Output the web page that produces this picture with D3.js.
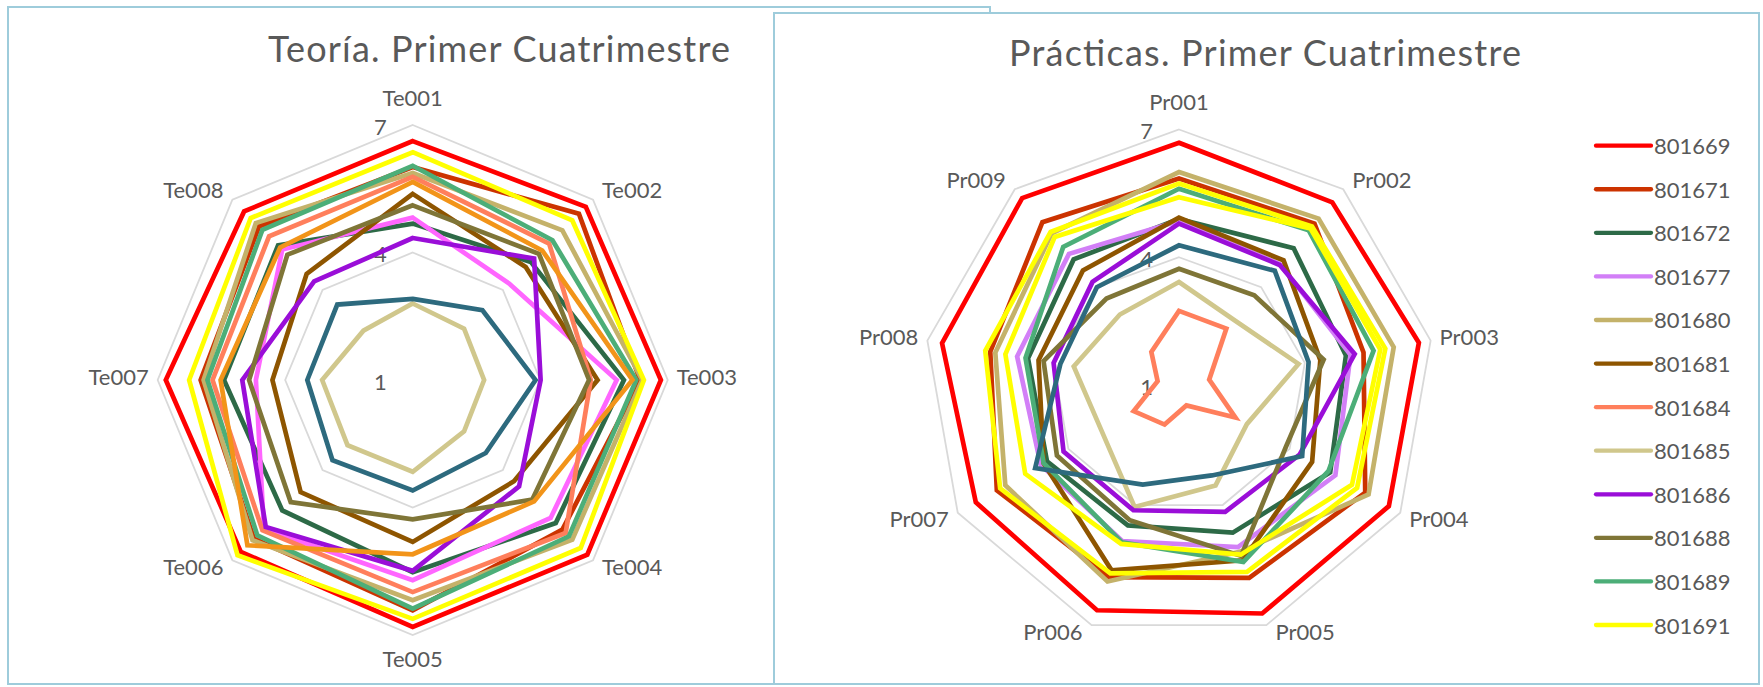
<!DOCTYPE html>
<html><head><meta charset="utf-8">
<script src="https://cdn.jsdelivr.net/npm/d3@7"></script>
<style>
html,body{margin:0;padding:0;background:#fff;}
svg{display:block;}
text{font-family:Lato,"Open Sans",sans-serif;fill:#595959;}
</style>
</head><body>
<svg id="chart" width="1763" height="687"></svg>
<script>
// ---------- categories ----------
const teoAxes = ["Te001","Te002","Te003","Te004","Te005","Te006","Te007","Te008"];
const prAxes  = ["Pr001","Pr002","Pr003","Pr004","Pr005","Pr006","Pr007","Pr008","Pr009"];
const tickValues = [1,4,7];
const gridLevels = [4,7];

// ---------- legend ----------
const legendIds = ["801669","801671","801672","801677","801680","801681","801684","801685","801686","801688","801689","801691"];
const legendColors = ["#FF0000","#CC3300","#2D6A47","#D27FF7","#C4B26A","#8E5500","#FF7F5C","#D0C78C","#9A0ED8","#7F7537","#4CAE78","#FFFF00"];

// ---------- Teoría values (Te001..Te008) ----------
const teo801669 = [6.62,6.76,6.84,6.81,6.81,6.72,6.81,6.61];
const teo801671 = [6.01,6.53,6.35,5.98,6.42,6.28,5.99,6.11];
const teo801672 = [4.68,4.93,5.97,5.76,5.52,5.34,5.44,5.48];
const teo801677 = [4.82,4.21,5.80,5.59,5.71,5.95,4.69,5.34];
const teo801680 = [5.87,5.98,6.40,6.31,6.18,6.33,5.92,6.22];
const teo801681 = [5.38,4.76,5.35,4.37,4.81,4.73,4.30,4.53];
const teo801684 = [5.78,5.54,5.19,6.09,5.99,6.00,5.71,5.78];
const teo801685 = [2.80,2.71,2.68,2.71,3.16,3.17,3.13,2.64];
const teo801686 = [4.34,5.04,4.01,4.54,5.49,5.89,5.01,4.28];
const teo801688 = [5.11,5.20,5.15,4.98,4.28,5.06,4.85,5.17];
const teo801689 = [6.04,5.65,6.26,6.20,6.38,6.17,5.83,6.00];
const teo801691 = [6.36,6.31,6.44,6.59,6.62,6.83,6.26,6.39];
const teoOrange = [5.66,5.31,6.17,5.04,5.10,6.50,5.52,5.41];
const teoTeal   = [2.91,3.32,3.89,3.43,3.60,3.67,3.48,3.51];
const teoColors = ["#FF0000","#CC3300","#2D6A47","#FF66FF","#C4B26A","#8E5500","#FF7F5C","#D0C78C","#9A0ED8","#7F7537","#4CAE78","#FFFF00","#F29419","#2D6A7E"];

// ---------- Prácticas values (Pr001..Pr009) ----------
const pr801669 = [6.69,6.60,6.72,6.69,6.71,6.63,6.51,6.65,6.73];
const pr801671 = [5.85,5.95,5.40,6.05,5.82,5.80,5.94,5.50,5.99];
const pr801672 = [4.90,5.19,4.98,5.10,4.69,4.51,4.58,4.60,4.85];
const pr801677 = [4.85,4.70,5.09,5.24,5.05,4.90,4.75,4.86,5.02];
const pr801680 = [6.00,6.10,6.12,6.14,5.17,5.91,5.71,5.38,5.65];
const pr801681 = [4.93,4.82,4.37,4.61,5.38,5.63,4.67,4.35,4.51];
const pr801684 = [2.74,2.73,1.72,2.53,1.51,1.99,2.23,1.51,2.01];
const pr801685 = [3.42,3.00,3.85,2.84,3.51,4.05,3.11,3.51,3.16];
const pr801686 = [4.79,4.68,5.19,4.27,4.17,4.13,4.13,3.99,4.16];
const pr801688 = [3.73,3.75,4.45,3.90,5.27,4.38,4.31,4.23,3.65];
const pr801689 = [5.61,5.74,5.64,5.05,5.42,4.93,4.67,4.66,5.23];
const pr801691 = [5.73,5.86,5.92,5.83,5.67,5.71,5.85,5.62,5.69];
const prYellow2 = [5.41,5.80,5.80,5.69,5.24,4.97,5.17,5.14,5.54];
const prTeal    = [4.28,4.50,4.09,4.34,3.26,3.49,4.90,3.83,4.00];
const prColors = ["#FF0000","#CC3300","#2D6A47","#D27FF7","#C4B26A","#8E5500","#FF7F5C","#D0C78C","#9A0ED8","#7F7537","#4CAE78","#FFFF00","#FFFF00","#2D6A7E"];

const teoSeries = [teo801669,teo801671,teo801672,teo801677,teo801680,teo801681,teo801684,teo801685,teo801686,teo801688,teo801689,teo801691,teoOrange,teoTeal];
const prSeries  = [pr801669,pr801671,pr801672,pr801677,pr801680,pr801681,pr801684,pr801685,pr801686,pr801688,pr801689,pr801691,prYellow2,prTeal];

const svg = d3.select("#chart");
const boxColor = "#9ECCDB";

// panels (left first, right drawn over it)
svg.append("rect").attr("x",8).attr("y",7).attr("width",982).attr("height",677)
  .attr("fill","#fff").attr("stroke",boxColor).attr("stroke-width",2);

function radar(opt){
  const g = svg.append("g");
  const n = opt.axes.length;
  const r = d3.scaleLinear().domain([1,7]).range([0,opt.R]);
  const ang = i => i*2*Math.PI/n;
  const line = d3.lineRadial().angle((d,i)=>ang(i)).radius(d=>r(d)).curve(d3.curveLinearClosed);
  const plot = g.append("g").attr("transform",`translate(${opt.cx},${opt.cy})`);
  // grid rings
  plot.selectAll("path.grid").data(gridLevels).enter().append("path")
    .attr("class","grid")
    .attr("d",lv=>line(opt.axes.map(()=>lv)))
    .attr("fill","none").attr("stroke","#D9D9D9").attr("stroke-width",1.8);
  // tick labels
  plot.selectAll("text.tick").data(tickValues).enter().append("text")
    .attr("class","tick")
    .attr("x",-26).attr("y",d=>-r(d)+1)
    .attr("text-anchor","end").attr("dominant-baseline","central")
    .style("font-size","22px").text(d=>d);
  // series
  plot.selectAll("path.series").data(opt.series).enter().append("path")
    .attr("class","series")
    .attr("d",d=>line(d))
    .attr("fill","none")
    .attr("stroke",(d,i)=>opt.colors[i])
    .attr("stroke-width",4.7)
    .attr("stroke-linejoin","miter");
  // axis labels
  opt.axes.forEach((name,i)=>{
    const a = ang(i), s = Math.sin(a), c = Math.cos(a);
    const vx = r(7)*s, vy = -r(7)*c;
    let x, y, anchor;
    if (Math.abs(s) < 0.1){
      anchor = "middle"; x = vx; y = c > 0 ? vy - 28 : vy + 23;
    } else {
      anchor = s > 0 ? "start" : "end";
      x = vx + 9*Math.sign(s);
      y = (Math.abs(c) > 0.3 ? vy - 8*Math.sign(c) : vy - 2) - 2;
    }
    plot.append("text").attr("x",x).attr("y",y)
      .attr("text-anchor",anchor).attr("dominant-baseline","central")
      .style("font-size","22px").text(name);
  });
  // title
  g.append("text").attr("x",opt.titleX).attr("y",opt.titleY)
    .attr("text-anchor","middle")
    .attr("textLength",opt.titleW).attr("lengthAdjust","spacing")
    .style("font-size","36px").text(opt.title);
}

radar({axes:teoAxes, series:teoSeries, colors:teoColors, cx:412.7, cy:380, R:255,
  title:"Teoría. Primer Cuatrimestre", titleX:499, titleY:62, titleW:462});

svg.append("rect").attr("x",774).attr("y",13).attr("width",985).attr("height",671)
  .attr("fill","#fff").attr("stroke",boxColor).attr("stroke-width",2);

radar({axes:prAxes, series:prSeries, colors:prColors, cx:1179, cy:385, R:255.5,
  title:"Prácticas. Primer Cuatrimestre", titleX:1265, titleY:66, titleW:512});

// legend
const leg = svg.append("g");
const ly = d3.scalePoint().domain(legendIds).range([145.7,625]);
legendIds.forEach((id,i)=>{
  leg.append("line").attr("x1",1596).attr("x2",1651)
    .attr("y1",ly(id)).attr("y2",ly(id))
    .attr("stroke",legendColors[i]).attr("stroke-width",4.3).attr("stroke-linecap","round");
  leg.append("text").attr("x",1654).attr("y",ly(id))
    .attr("dominant-baseline","central").style("font-size","22px").text(id);
});
</script>
</body></html>
